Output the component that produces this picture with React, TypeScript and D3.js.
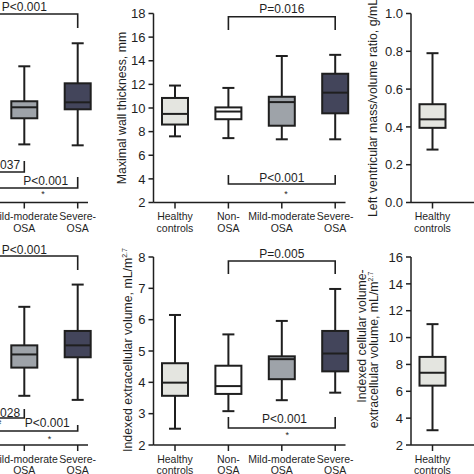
import React from "react";
import * as d3 from "d3";

const categories = ["Healthy controls", "Non-OSA", "Mild-moderate OSA", "Severe-OSA"];
const categoryLabelLines = [
  ["Healthy", "controls"],
  ["Non-", "OSA"],
  ["Mild-moderate", "OSA"],
  ["Severe-", "OSA"],
];
const groupFills = ["#e4e5e0", "#ffffff", "#9ea3a9", "#43455b"];

// Box statistics per group: [lower whisker, Q1, median, Q3, upper whisker]; null = outside the crop
const leftTopStats = [null, null, [6.92, 9.13, 10.06, 10.57, 13.53], [6.84, 9.89, 10.48, 12.09, 15.48]];
const wallThicknessStats = [
  [7.6, 8.6, 9.5, 10.85, 11.9],
  [7.45, 9.05, 9.7, 10.05, 11.7],
  [7.35, 8.5, 10.5, 10.95, 14.4],
  [7.35, 9.55, 11.3, 12.9, 14.5],
];
const massVolumeRatioStats = [[0.28, 0.395, 0.44, 0.52, 0.79]];
const leftBottomStats = [null, null, [3.57, 4.47, 4.89, 5.18, 6.41], [3.44, 4.8, 5.18, 5.64, 7.12]];
const extracellularStats = [
  [2.52, 3.57, 3.99, 4.61, 6.15],
  [3.08, 3.63, 3.88, 4.53, 5.53],
  [3.43, 4.1, 4.74, 4.83, 5.96],
  [3.67, 4.35, 4.92, 5.64, 6.98],
];
const cellularRatioStats = [[3.1, 6.42, 7.38, 8.56, 11.0]];

const wallTicks = [2, 4, 6, 8, 10, 12, 14, 16, 18];
const ratioTicks = [0, 0.2, 0.4, 0.6, 0.8, 1.0];
const ecvTicks = [2, 3, 4, 5, 6, 7, 8];
const cellTicks = [2, 4, 6, 8, 10, 12, 14, 16];

// Comparison brackets: group indices and p-value labels
const leftTopBrackets = [
  { from: 1, to: 3, label: "P<0.001" },
  { from: 1, to: 2, label: "P=0.037" },
  { from: 1, to: 3, label: "P<0.001", star: true },
];
const wallBrackets = [
  { from: 1, to: 3, label: "P=0.016" },
  { from: 1, to: 3, label: "P<0.001", star: true },
];
const leftBottomBrackets = [
  { from: 1, to: 3, label: "P<0.001" },
  { from: 1, to: 2, label: "P=0.028", hash: true },
  { from: 1, to: 3, label: "P<0.001", star: true },
];
const ecvBrackets = [
  { from: 1, to: 3, label: "P=0.005" },
  { from: 1, to: 3, label: "P<0.001", star: true },
];

// Layout (pixels) for the brackets: line y, tick length (+down / -up), label x (group units), label baseline
const leftTopBracketLayout = [
  { y: 14, tick: 14, at: 2, ly: 11 },
  { y: 172, tick: -11, at: 1.5, ly: 168.5 },
  { y: 188, tick: -11, at: 2.4, ly: 185, starAt: 2.35, starY: 197 },
];
const wallBracketLayout = [
  { y: 16.7, tick: 13.3, at: 2, ly: 12.7 },
  { y: 184, tick: -9, at: 2, ly: 181.5, starAt: 2.08, starY: 197 },
];
const leftBottomBracketLayout = [
  { y: 256, tick: 14, at: 2, ly: 254 },
  { y: 418, tick: -9, at: 1.5, ly: 416.5, hashAt: 1.52, hashY: 426 },
  { y: 431, tick: -6, at: 2.43, ly: 426.5, starAt: 2.47, starY: 442 },
];
const ecvBracketLayout = [
  { y: 261, tick: 13, at: 2, ly: 257.5 },
  { y: 428, tick: -11, at: 2.05, ly: 423, starAt: 2.1, starY: 438 },
];

const FONT = "'Liberation Sans', Arial, Helvetica, sans-serif";
const INK = "#1f1f1f";
const W = 474;

type PanelProps = {
  ox: number;
  top: number;
  bottom: number;
  domain: [number, number];
  ticks: number[];
  fmt: (v: number) => string;
  stats: (number[] | null)[];
  showTicks: boolean;
  title?: React.ReactNode;
  brackets?: any[];
  layout?: any[];
};

function Panel({ ox, top, bottom, domain, ticks, fmt, stats, showTicks, title, brackets = [], layout = [] }: PanelProps) {
  const y = d3.scaleLinear().domain(domain).range([bottom, top]);
  const x = d3.scalePoint<string>().domain(categories).range([ox + 21.5, ox + 21.5 + 160.2]);
  const xf = d3.scaleLinear().domain([0, categories.length - 1]).range([ox + 21.5, ox + 21.5 + 160.2]);
  const boxW = 26;
  const capW = 12;
  const visible = (cx: number, half: number) => cx + half > 0 && cx - half < W;
  return (
    <g fontFamily={FONT} fill={INK}>
      {/* axes */}
      {ox >= 0 && <line x1={ox} x2={ox} y1={top} y2={bottom} stroke={INK} strokeWidth={1.5} />}
      <line x1={Math.max(ox, 0)} x2={ox + 192} y1={bottom} y2={bottom} stroke={INK} strokeWidth={1.5} />
      {showTicks &&
        ticks.map((t) => (
          <g key={t}>
            <line x1={ox - 5} x2={ox} y1={y(t)} y2={y(t)} stroke={INK} strokeWidth={1.5} />
            <text x={ox - 8} y={y(t)} dy="0.36em" textAnchor="end" fontSize={13}>
              {fmt(t)}
            </text>
          </g>
        ))}
      {categories.map((c, i) =>
        visible(x(c)!, 36) ? (
          <g key={c}>
            <line x1={x(c)} x2={x(c)} y1={bottom} y2={bottom + 6} stroke={INK} strokeWidth={1.5} />
            {categoryLabelLines[i].map((ln, k) => (
              <text key={k} x={x(c)} y={bottom + 17.5 + k * 11.5} textAnchor="middle" fontSize={10.5}>
                {ln}
              </text>
            ))}
          </g>
        ) : null
      )}
      {title}
      {/* boxes */}
      {stats.map((s, i) => {
        if (!s) return null;
        const cx = x(categories[i])!;
        const [lo, q1, med, q3, hi] = s;
        return (
          <g key={i} stroke={INK} strokeWidth={2}>
            <line x1={cx} x2={cx} y1={y(hi)} y2={y(lo)} />
            <line x1={cx - capW / 2} x2={cx + capW / 2} y1={y(hi)} y2={y(hi)} />
            <line x1={cx - capW / 2} x2={cx + capW / 2} y1={y(lo)} y2={y(lo)} />
            <rect x={cx - boxW / 2} width={boxW} y={y(q3)} height={y(q1) - y(q3)} fill={groupFills[i]} />
            <line x1={cx - boxW / 2} x2={cx + boxW / 2} y1={y(med)} y2={y(med)} />
          </g>
        );
      })}
      {/* brackets */}
      {brackets.map((b, i) => {
        const L = layout[i];
        const x1 = x(categories[b.from])!;
        const x2 = x(categories[b.to])!;
        return (
          <g key={"b" + i}>
            <path
              d={`M${x1},${L.y + L.tick}V${L.y}H${x2}V${L.y + L.tick}`}
              fill="none"
              stroke={INK}
              strokeWidth={1.6}
            />
            <text x={xf(L.at)} y={L.ly} textAnchor="middle" fontSize={12}>
              {b.label}
            </text>
            {b.star && (
              <text x={xf(L.starAt)} y={L.starY} textAnchor="middle" fontSize={9}>
                *
              </text>
            )}
            {b.hash && (
              <text x={xf(L.hashAt)} y={L.hashY} textAnchor="middle" fontSize={9}>
                #
              </text>
            )}
          </g>
        );
      })}
    </g>
  );
}

function RotTitle({ x, y, children }: { x: number; y: number; children: React.ReactNode }) {
  return (
    <text transform={`translate(${x},${y}) rotate(-90)`} textAnchor="middle" fontSize={12.3} fontFamily={FONT} fill={INK}>
      {children}
    </text>
  );
}

export default function App() {
  const fmtInt = (v: number) => d3.format("d")(v);
  const fmt1 = (v: number) => d3.format(".1f")(v);
  const topRow = { top: 13.5, bottom: 202.5 };
  const botRow = { top: 257, bottom: 445 };
  return (
    <svg width={W} height={W} style={{ position: "fixed", left: 0, top: 0, background: "#fff" }}>
      <rect width={W} height={W} fill="#fff" />
      <Panel ox={-104} {...topRow} domain={[2, 18]} ticks={wallTicks} fmt={fmtInt} stats={leftTopStats} showTicks={false}
        brackets={leftTopBrackets} layout={leftTopBracketLayout} />
      <Panel ox={153.5} {...topRow} domain={[2, 18]} ticks={wallTicks} fmt={fmtInt} stats={wallThicknessStats} showTicks
        brackets={wallBrackets} layout={wallBracketLayout}
        title={<RotTitle x={126} y={108}>Maximal wall thickness, mm</RotTitle>} />
      <Panel ox={411} {...topRow} domain={[0, 1]} ticks={ratioTicks} fmt={fmt1} stats={massVolumeRatioStats} showTicks
        title={<RotTitle x={377} y={108}>Left ventricular mass/volume ratio, g/mL</RotTitle>} />
      <Panel ox={-104} {...botRow} domain={[2, 8]} ticks={ecvTicks} fmt={fmtInt} stats={leftBottomStats} showTicks={false}
        brackets={leftBottomBrackets} layout={leftBottomBracketLayout} />
      <Panel ox={153.5} {...botRow} domain={[2, 8]} ticks={ecvTicks} fmt={fmtInt} stats={extracellularStats} showTicks
        brackets={ecvBrackets} layout={ecvBracketLayout}
        title={
          <RotTitle x={132} y={350}>
            Indexed extracellular volume, mL/m<tspan fontSize={7} dy={-5}>2.7</tspan>
          </RotTitle>
        } />
      <Panel ox={411} {...botRow} domain={[2, 16]} ticks={cellTicks} fmt={fmtInt} stats={cellularRatioStats} showTicks
        title={
          <g>
            <RotTitle x={366} y={336}>Indexed cellular volume-</RotTitle>
            <RotTitle x={378} y={350}>
              extracellular volume, mL/m<tspan fontSize={7} dy={-5}>2.7</tspan>
            </RotTitle>
          </g>
        } />
    </svg>
  );
}
